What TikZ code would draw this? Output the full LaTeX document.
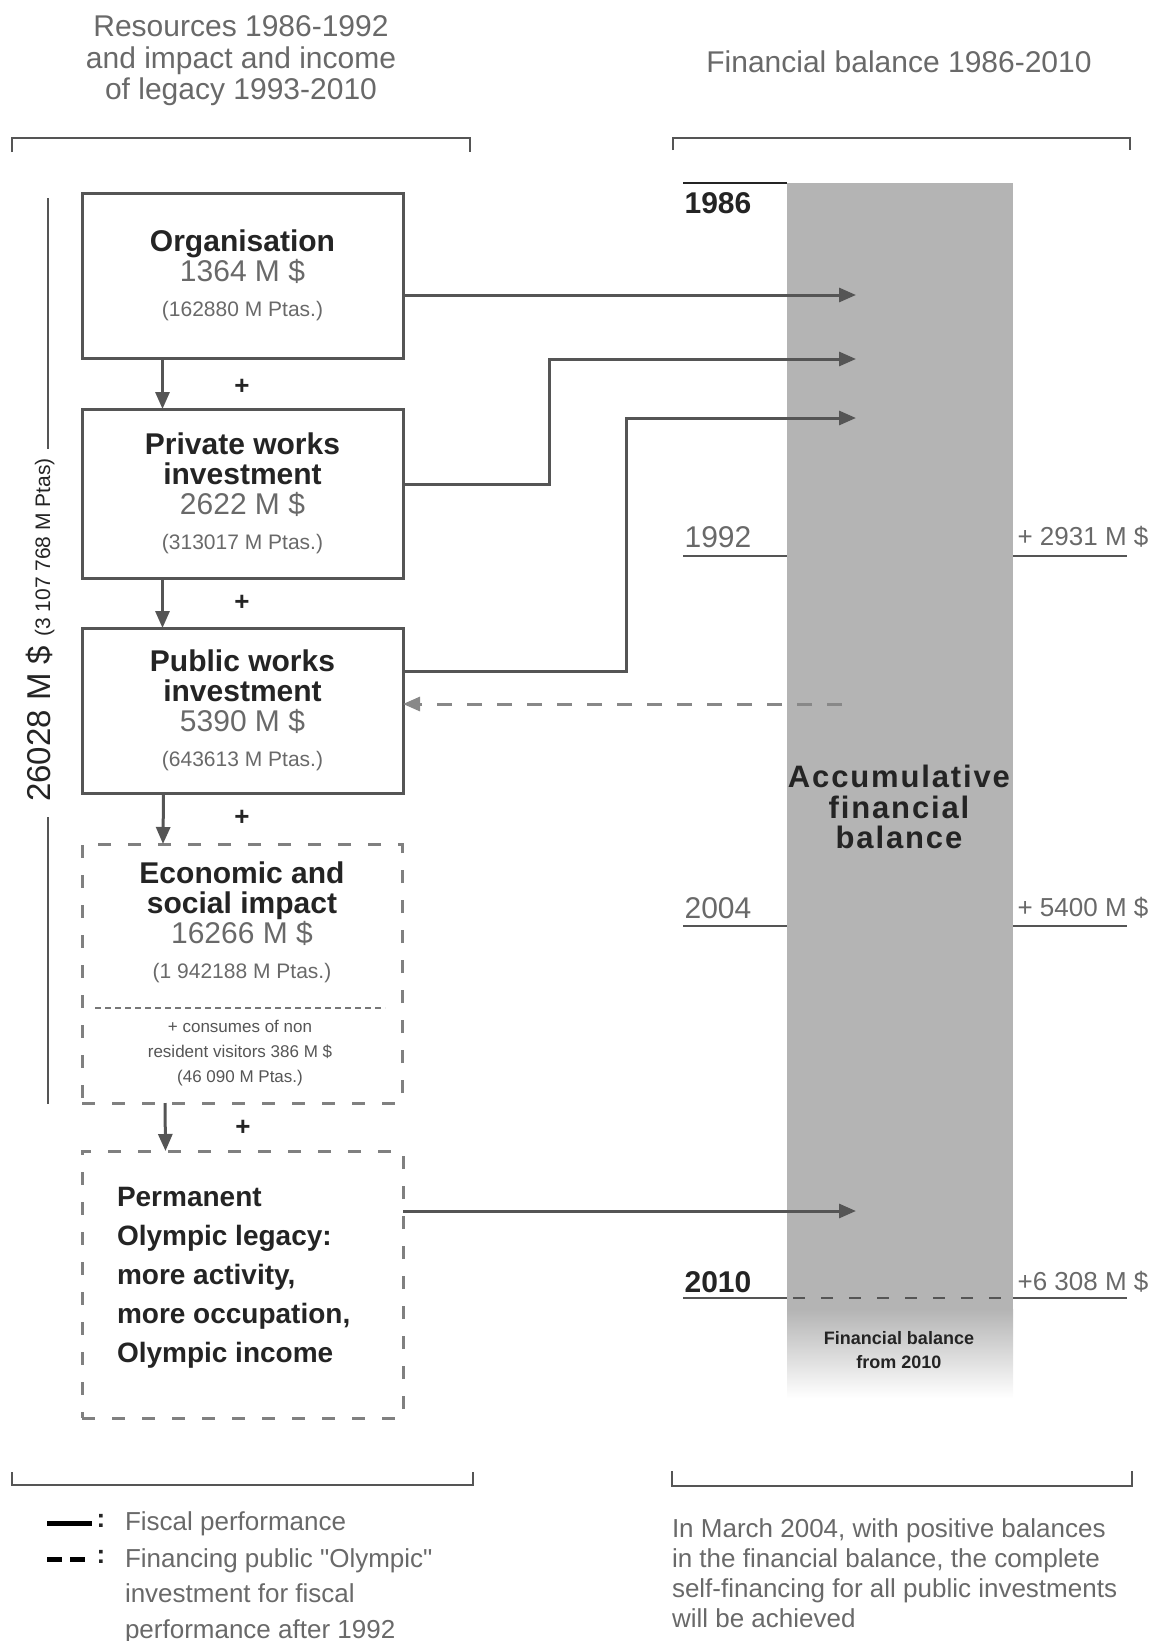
\documentclass[tikz,border=0pt]{standalone}
\usepackage{fontspec}
\setmainfont{Liberation Sans}[Ligatures=TeXOff]
\usetikzlibrary{arrows.meta}

\definecolor{barfill}{RGB}{180,180,180}
\definecolor{ink}{RGB}{36,36,36}
\definecolor{soft}{RGB}{105,105,105}
\definecolor{frame}{RGB}{85,85,85}
\newcommand{\fsz}[1]{\fontsize{#1}{#1}\selectfont}

\begin{document}
\begin{tikzpicture}
  [x=1pt,y=-1pt,
   every node/.style={inner sep=0pt,outer sep=0pt,text=soft},
   box/.style={draw=frame,line width=3pt,minimum width=321pt,align=center,font=\fontsize{30}{30}\selectfont},
   dbox/.style={draw=frame!75,line width=3pt,dash pattern=on 13pt off 17pt,minimum width=320pt},
   arr/.style={draw=frame,line width=3pt,-{Triangle[length=17pt,width=14pt]}},
   darr/.style={arr,draw=frame!70,dash pattern=on 15pt off 15pt},
   brk/.style={draw=frame,line width=2pt},
   yrline/.style={draw=frame,line width=2pt},
   ttl/.style={font=\fontsize{30}{31.5}\selectfont,align=center},
   bold/.style={font=\fsz{30}\bfseries,text=ink},
   plain/.style={font=\fsz{30}},
   amt/.style={font=\fsz{26}},
   plus/.style={font=\fsz{26}\bfseries,text=ink}]

  \useasboundingbox (0,0) rectangle (1154,1641);

  % headers and brackets
  \node[ttl] (hleft) at (241,61) {Resources 1986-1992\\and impact and income\\of legacy 1993-2010};
  \node[ttl] (hright) at (899,62) {Financial balance 1986-2010};
  \draw[brk] (12,152) -- (12,138) -- (470,138) -- (470,152);
  \draw[brk] (673,150) -- (673,138) -- (1130,138) -- (1130,150);
  \draw[brk] (12,1472) -- (12,1485) -- (473,1485) -- (473,1472);
  \draw[brk] (672,1471) -- (672,1486) -- (1132,1486) -- (1132,1471);

  % total on the left
  \node[rotate=90,text=ink] (total) at (40,630) {\fsz{33}26028 M \$ {\fsz{21}(3 107 768 M Ptas)}};
  \draw[brk] (48,198) -- (48,449);
  \draw[brk] (48,817) -- (48,1104);

  % resource boxes
  \node[box,minimum height=165pt] (org) at (242.5,275.5)
    {{\bfseries\color{ink}Organisation}\\1364 M \$\\[5pt]{\fsz{21}(162880 M Ptas.)}};
  \node[box,minimum height=169pt] (priv) at (242.5,493.5)
    {{\bfseries\color{ink}Private works}\\{\bfseries\color{ink}investment}\\2622 M \$\\[5pt]{\fsz{21}(313017 M Ptas.)}};
  \node[box,minimum height=165pt] (pub) at (242.5,710.5)
    {{\bfseries\color{ink}Public works}\\{\bfseries\color{ink}investment}\\5390 M \$\\[5pt]{\fsz{21}(643613 M Ptas.)}};
  \node[dbox,minimum height=259pt] (eco) at (242,973.5) {};
  \node[align=center,font=\fontsize{30}{30}\selectfont] (ecotxt) at (242,922)
    {{\bfseries\color{ink}Economic and}\\{\bfseries\color{ink}social impact}\\16266 M \$\\[5pt]{\fsz{21}(1 942188 M Ptas.)}};
  \draw[draw=frame!80,line width=1.5pt,dash pattern=on 6pt off 4pt] (95,1008) -- (385,1008);
  \node[align=center,font=\fontsize{17}{25}\selectfont,text=frame] (ecosub) at (240,1053)
    {+ consumes of non\\resident visitors 386 M \$\\(46 090 M Ptas.)};
  \node[dbox,minimum height=267pt,minimum width=321pt] (perm) at (242.5,1284.5) {};
  \node[anchor=west,align=left,font=\fontsize{28}{39}\selectfont\bfseries,text=ink] (permtxt) at (117,1278)
    {Permanent\\Olympic legacy:\\more activity,\\more occupation,\\Olympic income};

  \draw[arr] ([xshift=-80pt]org.south) -- ([xshift=-80pt]priv.north);
  \draw[arr] ([xshift=-80pt]priv.south) -- ([xshift=-80pt]pub.north);
  \draw[arr] ([xshift=-79pt]pub.south) -- ([xshift=-79pt]eco.north);
  \draw[arr] ([xshift=-77pt]eco.south) -- ([xshift=-77pt]perm.north);
  \node[plus] (p1) at (242,387) {+};
  \node[plus] (p2) at (242,603) {+};
  \node[plus] (p3) at (242,818) {+};
  \node[plus] (p4) at (243,1128) {+};

  % financial balance bar
  \fill[barfill] (787,183) rectangle (1013,1310);
  \shade[top color=barfill,bottom color=white] (787,1309) rectangle (1013,1398);
  \node[align=center,font=\fontsize{31}{30.5}\selectfont\bfseries\addfontfeatures{LetterSpace=6},text=ink] (accu) at (899,807)
    {Accumulative\\financial\\balance};
  \node[align=center,font=\fontsize{18}{24}\selectfont\bfseries,text=ink] (from) at (899,1350)
    {Financial balance\\from 2010};

  \draw[yrline,draw=ink] (683,183) -- (787,183);
  \node[bold] (y86) at (718,203) {1986};
  \draw[yrline] (683,556) -- (787,556);
  \draw[yrline] (1013,556) -- (1127,556);
  \node[plain] (y92) at (718,537) {1992};
  \node[amt] (b92) at (1083,537) {+ 2931 M \$};
  \draw[yrline] (683,926) -- (787,926);
  \draw[yrline] (1013,926) -- (1127,926);
  \node[plain] (y04) at (718,908) {2004};
  \node[amt] (b04) at (1083,908) {+ 5400 M \$};
  \draw[yrline] (683,1298) -- (787,1298);
  \draw[yrline] (1013,1298) -- (1127,1298);
  \draw[yrline,dash pattern=on 12pt off 16pt] (793,1298) -- (1013,1298);
  \node[bold] (y10) at (718,1282) {2010};
  \node[amt] (b10) at (1083,1282) {+6 308 M \$};

  % flows into the bar
  \coordinate (t1) at (856,295);
  \coordinate (t2) at (856,359);
  \coordinate (t3) at (856,418);
  \coordinate (t4) at (856,1211);
  \coordinate (back) at (842,704);
  \draw[arr] (org.east |- t1) -- (t1);
  \draw[arr] (priv.east |- 0,484) -| (549,359) -- (t2);
  \draw[arr] (pub.east |- 0,671) -| (626,418) -- (t3);
  \draw[arr] (perm.east |- t4) -- (t4);
  \draw[darr] (back) -- (pub.east |- back);

  % legend
  \draw[line width=5pt,draw=black] (47,1523) -- (92,1523);
  \draw[line width=5pt,draw=black,dash pattern=on 15pt off 8pt] (47,1559) -- (92,1559);
  \node[font=\fsz{26}\bfseries,text=ink] (c1) at (101,1521) {:};
  \node[font=\fsz{26}\bfseries,text=ink] (c2) at (101,1557) {:};
  \node[anchor=west,font=\fsz{26}] (leg1) at (125,1524) {Fiscal performance};
  \node[anchor=west,align=left,font=\fontsize{26}{35.5}\selectfont] (leg2) at (125,1596)
    {Financing public "Olympic"\\investment for fiscal\\performance after 1992};
  \node[anchor=west,align=left,font=\fontsize{26}{30}\selectfont] (note) at (672,1573)
    {In March 2004, with positive balances\\in the financial balance, the complete\\self-financing for all public investments\\will be achieved};
\end{tikzpicture}
\end{document}
